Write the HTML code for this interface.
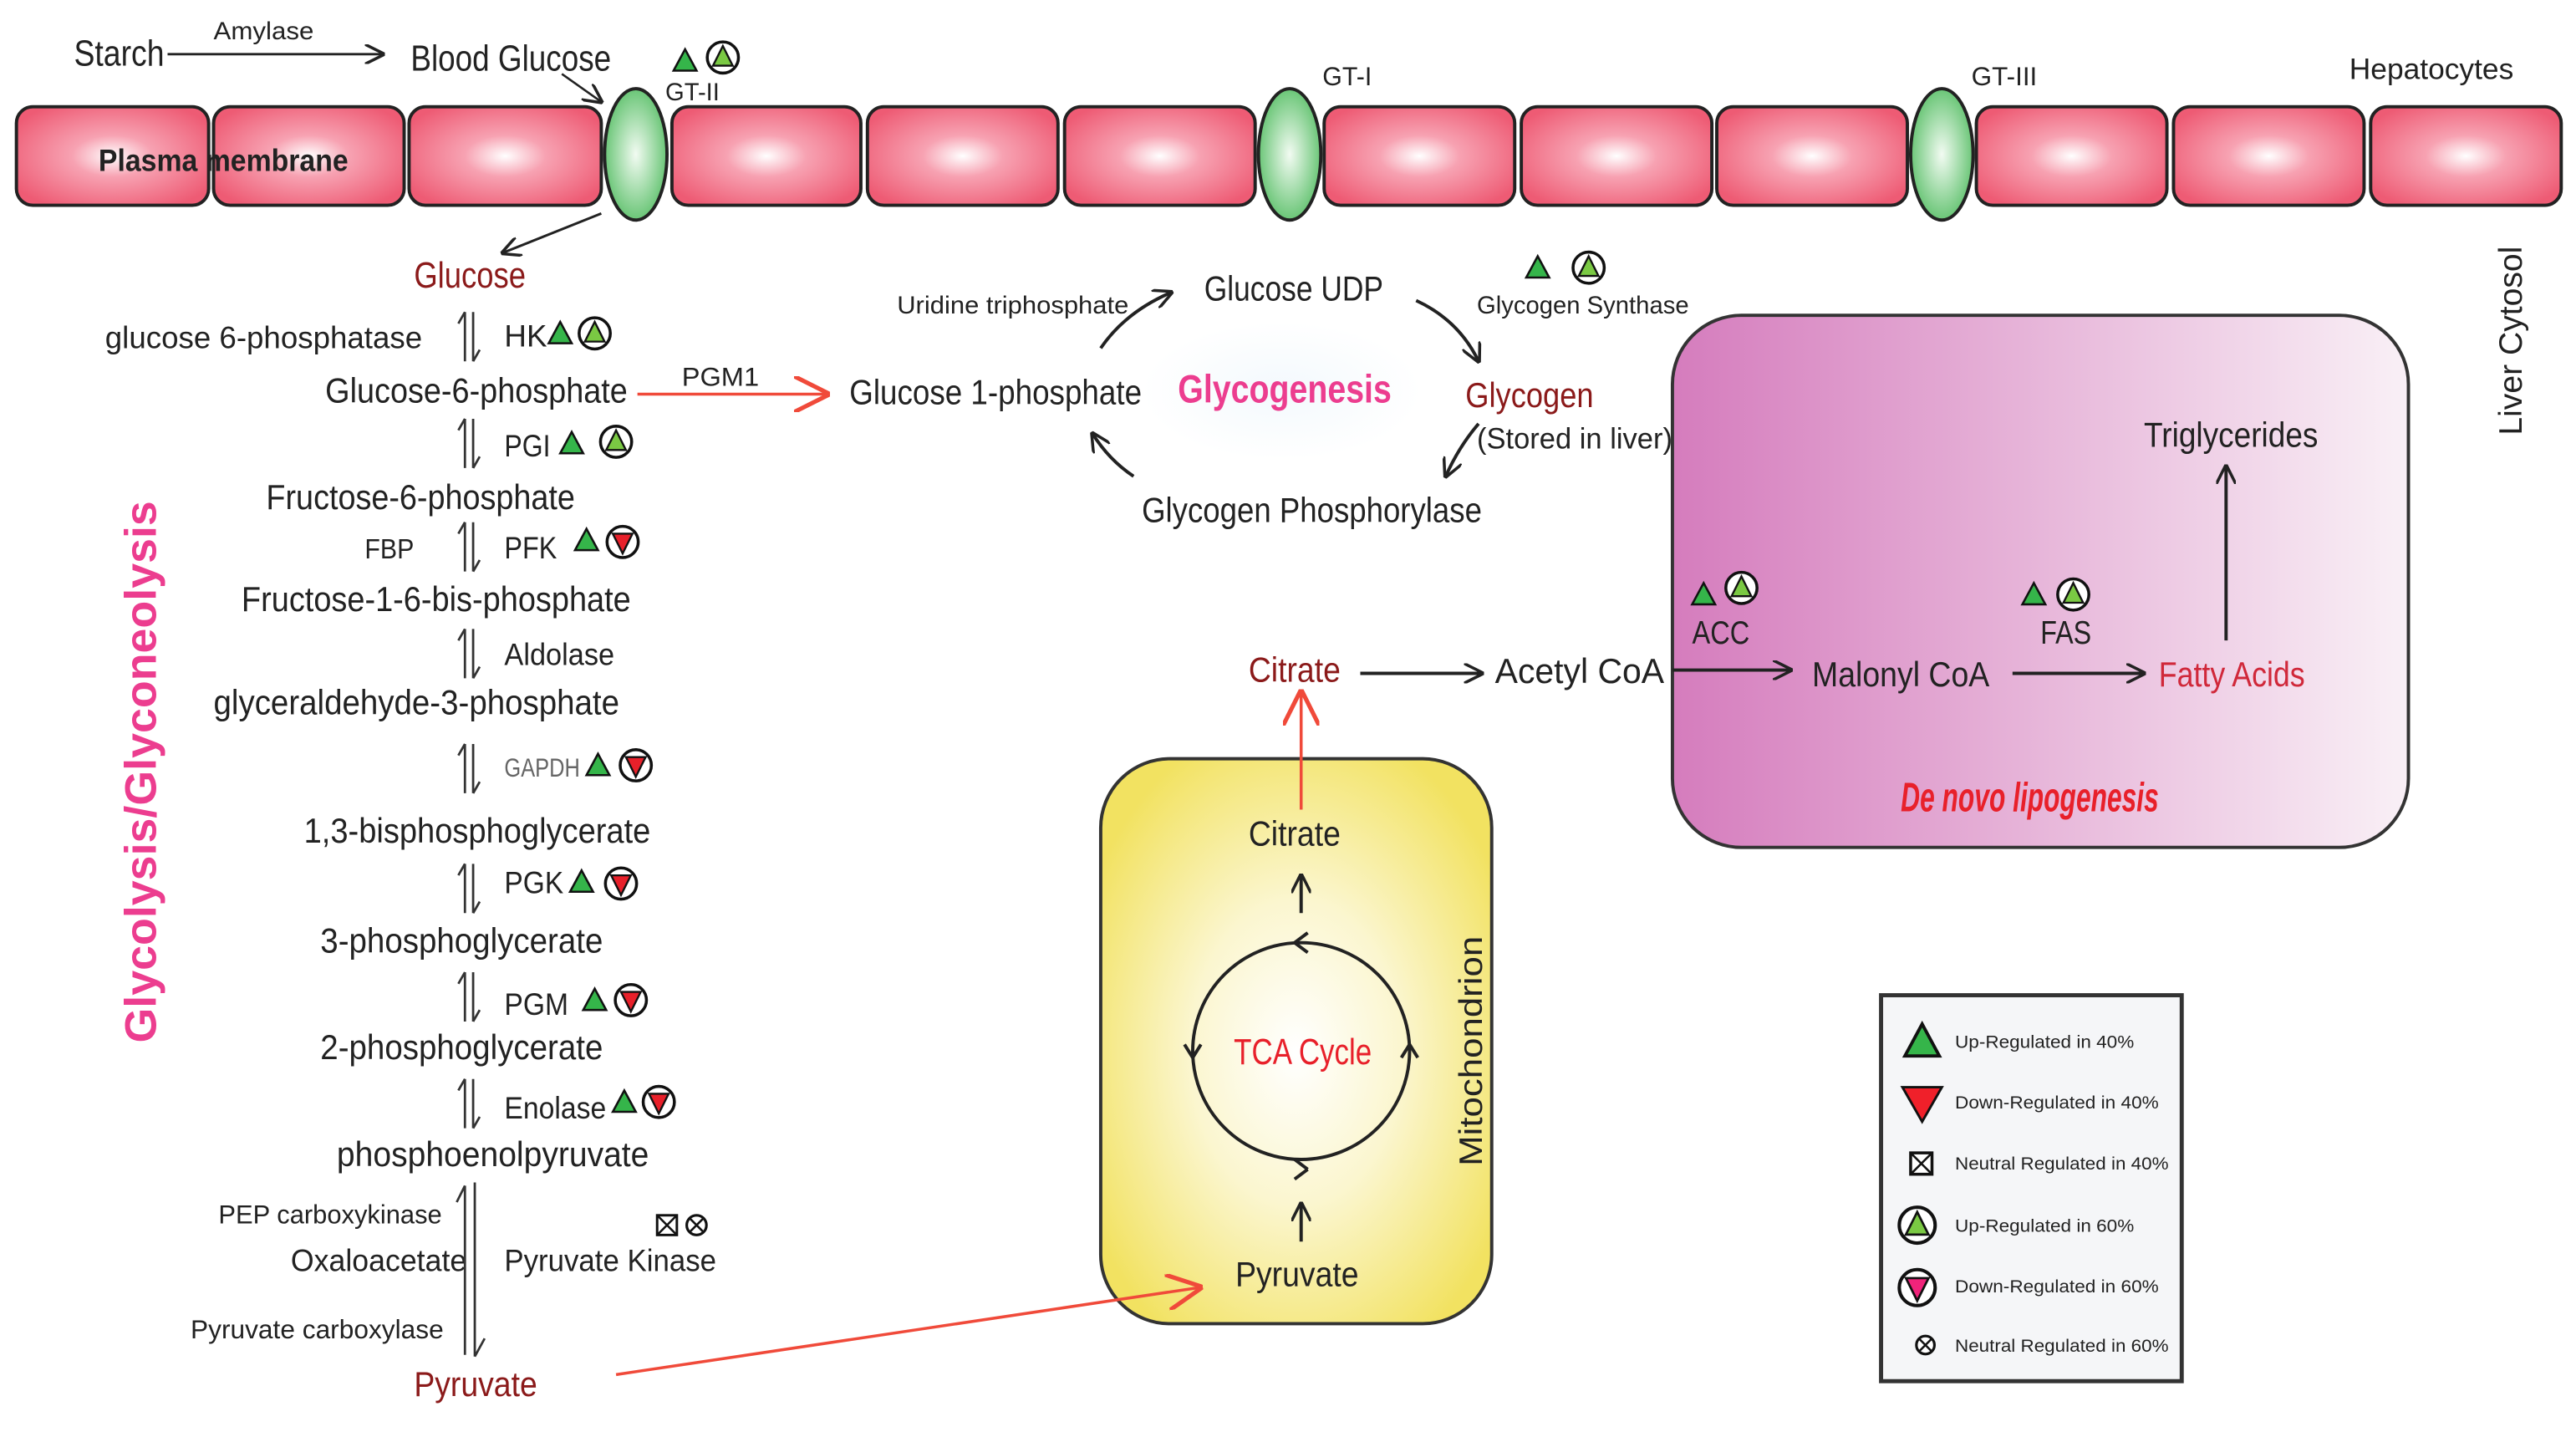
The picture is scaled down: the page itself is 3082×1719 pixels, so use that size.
<!DOCTYPE html>
<html><head><meta charset="utf-8"><style>html,body{margin:0;padding:0;background:#fff}svg{display:block}text{font-family:"Liberation Sans",sans-serif;fill:#222}</style></head><body>
<svg width="3082" height="1719" viewBox="0 0 1568 875" preserveAspectRatio="none" xmlns="http://www.w3.org/2000/svg">
<defs>
<radialGradient id="pk" cx="50%" cy="50%" r="60%"><stop offset="0" stop-color="#fff"/><stop offset="0.35" stop-color="#f7a2b2"/><stop offset="1" stop-color="#ee5b74"/></radialGradient>
<radialGradient id="gr" cx="50%" cy="50%" r="55%"><stop offset="0" stop-color="#f2fbf2"/><stop offset="1" stop-color="#5cc06a"/></radialGradient>
<radialGradient id="yl" cx="50%" cy="52%" r="60%"><stop offset="0" stop-color="#fff"/><stop offset="0.45" stop-color="#fbf6cf"/><stop offset="1" stop-color="#f2e261"/></radialGradient>
<radialGradient id="bl" cx="50%" cy="50%" r="50%"><stop offset="0" stop-color="#f3f9fd"/><stop offset="1" stop-color="#fff"/></radialGradient>
<linearGradient id="mg" x1="0" x2="1"><stop offset="0" stop-color="#d57cbd"/><stop offset="1" stop-color="#f9f0f6"/></linearGradient>
<marker id="a" viewBox="0 0 10 10" refX="9" refY="5" markerWidth="12" markerHeight="12" markerUnits="userSpaceOnUse" orient="auto"><path d="M0,0 L10,5 L0,10" fill="none" stroke="#222" stroke-width="1.5"/></marker>
<marker id="ar" viewBox="0 0 10 10" refX="9" refY="5" markerWidth="22" markerHeight="22" markerUnits="userSpaceOnUse" orient="auto"><path d="M0,0 L10,5 L0,10" fill="none" stroke="#f04a3a" stroke-width="1.2"/></marker>
<g id="u4"><path d="M-7,6 L0,-7 L7,6 Z" fill="#35b54a" stroke="#111" stroke-width="1.3"/></g>
<g id="u6"><circle r="9.5" fill="#fff" stroke="#111" stroke-width="1.8"/><path d="M-6,5 L0,-7 L6,5 Z" fill="#7ac943" stroke="#111" stroke-width="1.2"/></g>
<g id="d6"><circle r="9.5" fill="#fff" stroke="#111" stroke-width="1.8"/><path d="M-6,-5 L0,7 L6,-5 Z" fill="#e8202a" stroke="#111" stroke-width="1.2"/></g>
<g id="dd"><path d="M-2,-15 L-2,15 M-2,-15 L-6,-8" stroke="#333" stroke-width="1.4" fill="none"/><path d="M3,-15 L3,15 M3,15 L7,8" stroke="#333" stroke-width="1.4" fill="none"/></g>
</defs>
<g stroke="#222" stroke-width="2" fill="url(#pk)">
<rect x="10" y="65" width="117" height="60" rx="10"/><rect x="130" y="65" width="116" height="60" rx="10"/><rect x="249" y="65" width="117" height="60" rx="10"/>
<rect x="409" y="65" width="115" height="60" rx="10"/><rect x="528" y="65" width="116" height="60" rx="10"/><rect x="648" y="65" width="116" height="60" rx="10"/>
<rect x="806" y="65" width="116" height="60" rx="10"/><rect x="926" y="65" width="116" height="60" rx="10"/><rect x="1045" y="65" width="116" height="60" rx="10"/>
<rect x="1203" y="65" width="116" height="60" rx="10"/><rect x="1323" y="65" width="116" height="60" rx="10"/><rect x="1443" y="65" width="116" height="60" rx="10"/>
</g>
<g stroke="#222" stroke-width="2" fill="url(#gr)"><ellipse cx="387" cy="94" rx="19" ry="40"/><ellipse cx="785" cy="94" rx="19" ry="40"/><ellipse cx="1182" cy="94" rx="19" ry="40"/></g>
<g>
<text x="60" y="104" font-size="19" font-weight="bold" textLength="152" lengthAdjust="spacingAndGlyphs">Plasma membrane</text>
<text x="45" y="40" font-size="22" textLength="55" lengthAdjust="spacingAndGlyphs">Starch</text>
<text x="130" y="24" font-size="15" textLength="61" lengthAdjust="spacingAndGlyphs">Amylase</text>
<text x="250" y="43" font-size="22" textLength="122" lengthAdjust="spacingAndGlyphs">Blood Glucose</text>
<text x="405" y="61" font-size="15" textLength="33" lengthAdjust="spacingAndGlyphs">GT-II</text>
<text x="805" y="52" font-size="16" textLength="30" lengthAdjust="spacingAndGlyphs">GT-I</text>
<text x="1200" y="52" font-size="16" textLength="40" lengthAdjust="spacingAndGlyphs">GT-III</text>
<text x="1430" y="48" font-size="18" textLength="100" lengthAdjust="spacingAndGlyphs">Hepatocytes</text>
<text transform="translate(1535,265) rotate(-90)" font-size="20" textLength="115" lengthAdjust="spacingAndGlyphs">Liver Cytosol</text>
<text x="252" y="175" font-size="22" style="fill:#8b1a1a" textLength="68" lengthAdjust="spacingAndGlyphs">Glucose</text>
<text transform="translate(95,470) rotate(-90)" text-anchor="middle" font-size="27" font-weight="bold" style="fill:#ec3d8f" textLength="330" lengthAdjust="spacingAndGlyphs">Glycolysis/Glyconeolysis</text>
<text x="64" y="212" font-size="19" textLength="193" lengthAdjust="spacingAndGlyphs">glucose 6-phosphatase</text>
<text x="307" y="211" font-size="19" textLength="26" lengthAdjust="spacingAndGlyphs">HK</text>
<text x="198" y="245" font-size="21" textLength="184" lengthAdjust="spacingAndGlyphs">Glucose-6-phosphate</text>
<text x="415" y="235" font-size="16" textLength="47" lengthAdjust="spacingAndGlyphs">PGM1</text>
<text x="307" y="278" font-size="19" textLength="28" lengthAdjust="spacingAndGlyphs">PGI</text>
<text x="162" y="310" font-size="21" textLength="188" lengthAdjust="spacingAndGlyphs">Fructose-6-phosphate</text>
<text x="222" y="340" font-size="17" textLength="30" lengthAdjust="spacingAndGlyphs">FBP</text>
<text x="307" y="340" font-size="19" textLength="32" lengthAdjust="spacingAndGlyphs">PFK</text>
<text x="147" y="372" font-size="21" textLength="237" lengthAdjust="spacingAndGlyphs">Fructose-1-6-bis-phosphate</text>
<text x="307" y="405" font-size="19" textLength="67" lengthAdjust="spacingAndGlyphs">Aldolase</text>
<text x="130" y="435" font-size="21" textLength="247" lengthAdjust="spacingAndGlyphs">glyceraldehyde-3-phosphate</text>
<text x="307" y="473" font-size="16" style="fill:#666" textLength="46" lengthAdjust="spacingAndGlyphs">GAPDH</text>
<text x="185" y="513" font-size="21" textLength="211" lengthAdjust="spacingAndGlyphs">1,3-bisphosphoglycerate</text>
<text x="307" y="544" font-size="19" textLength="36" lengthAdjust="spacingAndGlyphs">PGK</text>
<text x="195" y="580" font-size="21" textLength="172" lengthAdjust="spacingAndGlyphs">3-phosphoglycerate</text>
<text x="307" y="618" font-size="19" textLength="39" lengthAdjust="spacingAndGlyphs">PGM</text>
<text x="195" y="645" font-size="21" textLength="172" lengthAdjust="spacingAndGlyphs">2-phosphoglycerate</text>
<text x="307" y="681" font-size="19" textLength="62" lengthAdjust="spacingAndGlyphs">Enolase</text>
<text x="205" y="710" font-size="21" textLength="190" lengthAdjust="spacingAndGlyphs">phosphoenolpyruvate</text>
<text x="133" y="745" font-size="16" textLength="136" lengthAdjust="spacingAndGlyphs">PEP carboxykinase</text>
<text x="177" y="774" font-size="19" textLength="107" lengthAdjust="spacingAndGlyphs">Oxaloacetate</text>
<text x="307" y="774" font-size="19" textLength="129" lengthAdjust="spacingAndGlyphs">Pyruvate Kinase</text>
<text x="116" y="815" font-size="16" textLength="154" lengthAdjust="spacingAndGlyphs">Pyruvate carboxylase</text>
<text x="252" y="850" font-size="21" style="fill:#8b1a1a" textLength="75" lengthAdjust="spacingAndGlyphs">Pyruvate</text>
</g>
<line x1="102" y1="33" x2="233" y2="33" stroke="#222" stroke-width="1.5" marker-end="url(#a)"/>
<line x1="342" y1="45" x2="366" y2="62" stroke="#222" stroke-width="1.3" marker-end="url(#a)"/>
<use href="#u4" x="417" y="37"/><use href="#u6" x="440" y="35"/>
<line x1="366" y1="130" x2="306" y2="154" stroke="#222" stroke-width="1.5" marker-end="url(#a)"/>
<use href="#dd" x="285" y="205"/><use href="#u4" x="341" y="203"/><use href="#u6" x="362" y="203"/>
<line x1="388" y1="240" x2="503" y2="240" stroke="#f04a3a" stroke-width="1.8" marker-end="url(#ar)"/>
<use href="#dd" x="285" y="270"/><use href="#u4" x="348" y="270"/><use href="#u6" x="375" y="269"/>
<use href="#dd" x="285" y="333"/><use href="#u4" x="357" y="329"/><use href="#d6" x="379" y="330"/>
<use href="#dd" x="285" y="398"/>
<use href="#dd" x="285" y="468"/><use href="#u4" x="364" y="466"/><use href="#d6" x="387" y="466"/>
<use href="#dd" x="285" y="541"/><use href="#u4" x="354" y="537"/><use href="#d6" x="378" y="538"/>
<use href="#dd" x="285" y="607"/><use href="#u4" x="362" y="609"/><use href="#d6" x="384" y="609"/>
<use href="#dd" x="285" y="672"/><use href="#u4" x="380" y="671"/><use href="#d6" x="401" y="671"/>
<path d="M283,722 L283,825 M283,722 L278,732 M289,720 L289,826 M289,826 L295,815" stroke="#333" stroke-width="1.4" fill="none"/>
<rect x="400" y="740" width="12" height="12" fill="#fff" stroke="#111" stroke-width="1.5"/><path d="M400,740 L412,752 M412,740 L400,752" stroke="#111" stroke-width="1.3"/>
<circle cx="424" cy="746" r="6" fill="#fff" stroke="#111" stroke-width="1.6"/><path d="M420,742 L428,750 M428,742 L420,750" stroke="#111" stroke-width="1.3"/>
<!-- glycogenesis -->
<ellipse cx="780" cy="238" rx="85" ry="42" fill="url(#bl)"/>
<text x="546" y="191" font-size="15" textLength="141" lengthAdjust="spacingAndGlyphs">Uridine triphosphate</text>
<path d="M670,212 Q685,190 713,178" stroke="#222" stroke-width="2" fill="none" marker-end="url(#a)"/>
<text x="733" y="183" font-size="21" textLength="109" lengthAdjust="spacingAndGlyphs">Glucose UDP</text>
<path d="M862,183 Q888,195 900,220" stroke="#222" stroke-width="2" fill="none" marker-end="url(#a)"/>
<use href="#u4" x="936" y="163"/><use href="#u6" x="967" y="163"/>
<text x="899" y="191" font-size="15" textLength="129" lengthAdjust="spacingAndGlyphs">Glycogen Synthase</text>
<text x="517" y="246" font-size="21" textLength="178" lengthAdjust="spacingAndGlyphs">Glucose 1-phosphate</text>
<text x="717" y="245" font-size="24" font-weight="bold" style="fill:#ec3d8f" textLength="130" lengthAdjust="spacingAndGlyphs">Glycogenesis</text>
<text x="892" y="248" font-size="21" style="fill:#8b1a1a" textLength="78" lengthAdjust="spacingAndGlyphs">Glycogen</text>
<text x="899" y="273" font-size="18" textLength="119" lengthAdjust="spacingAndGlyphs">(Stored in liver)</text>
<path d="M900,258 Q888,272 880,290" stroke="#222" stroke-width="2" fill="none" marker-end="url(#a)"/>
<text x="695" y="318" font-size="21" textLength="207" lengthAdjust="spacingAndGlyphs">Glycogen Phosphorylase</text>
<path d="M690,290 Q675,280 665,264" stroke="#222" stroke-width="2" fill="none" marker-end="url(#a)"/>
<!-- lipogenesis -->
<rect x="1018" y="192" width="448" height="324" rx="42" fill="url(#mg)" stroke="#333" stroke-width="2"/>
<text x="1305" y="272" font-size="21" textLength="106" lengthAdjust="spacingAndGlyphs">Triglycerides</text>
<line x1="1355" y1="390" x2="1355" y2="284" stroke="#222" stroke-width="2" marker-end="url(#a)"/>
<use href="#u4" x="1037" y="362"/><use href="#u6" x="1060" y="358"/>
<text x="1030" y="392" font-size="20" textLength="35" lengthAdjust="spacingAndGlyphs">ACC</text>
<use href="#u4" x="1238" y="362"/><use href="#u6" x="1262" y="362"/>
<text x="1242" y="392" font-size="20" textLength="31" lengthAdjust="spacingAndGlyphs">FAS</text>
<text x="1103" y="418" font-size="21" textLength="108" lengthAdjust="spacingAndGlyphs">Malonyl CoA</text>
<text x="1314" y="418" font-size="21" style="fill:#d0283a" textLength="89" lengthAdjust="spacingAndGlyphs">Fatty Acids</text>
<line x1="1018" y1="408" x2="1090" y2="408" stroke="#222" stroke-width="2" marker-end="url(#a)"/>
<line x1="1225" y1="410" x2="1305" y2="410" stroke="#222" stroke-width="2" marker-end="url(#a)"/>
<text x="1157" y="494" font-size="25" font-weight="bold" font-style="italic" style="fill:#e8202a" textLength="157" lengthAdjust="spacingAndGlyphs">De novo lipogenesis</text>
<text x="760" y="415" font-size="21" style="fill:#8b1a1a" textLength="56" lengthAdjust="spacingAndGlyphs">Citrate</text>
<line x1="828" y1="410" x2="902" y2="410" stroke="#222" stroke-width="2" marker-end="url(#a)"/>
<text x="910" y="416" font-size="21" textLength="103" lengthAdjust="spacingAndGlyphs">Acetyl CoA</text>
<!-- mito -->
<rect x="670" y="462" width="238" height="344" rx="42" fill="url(#yl)" stroke="#333" stroke-width="2"/>
<text transform="translate(902,640) rotate(-90)" text-anchor="middle" font-size="20" textLength="140" lengthAdjust="spacingAndGlyphs">Mitochondrion</text>
<text x="760" y="515" font-size="21" textLength="56" lengthAdjust="spacingAndGlyphs">Citrate</text>
<line x1="792" y1="493" x2="792" y2="422" stroke="#f04a3a" stroke-width="1.8" marker-end="url(#ar)"/>
<line x1="792" y1="556" x2="792" y2="533" stroke="#222" stroke-width="2" marker-end="url(#a)"/>
<circle cx="792" cy="640" r="66" fill="none" stroke="#222" stroke-width="2"/>
<path d="M788,574 l8,-6 M788,574 l8,6 M726,644 l-5,-8 M726,644 l5,-8 M796,712 l-8,6 M796,712 l-8,-6 M858,636 l-5,8 M858,636 l5,8" stroke="#222" stroke-width="2" fill="none"/>
<text x="751" y="648" font-size="22" style="fill:#e8202a" textLength="84" lengthAdjust="spacingAndGlyphs">TCA Cycle</text>
<line x1="792" y1="756" x2="792" y2="733" stroke="#222" stroke-width="2" marker-end="url(#a)"/>
<text x="752" y="783" font-size="21" textLength="75" lengthAdjust="spacingAndGlyphs">Pyruvate</text>
<line x1="375" y1="837" x2="730" y2="784" stroke="#f04a3a" stroke-width="1.8" marker-end="url(#ar)"/>
<!-- legend -->
<rect x="1145" y="606" width="183" height="235" fill="#f5f6f8" stroke="#333" stroke-width="2.5"/>
<g transform="translate(1170,634) scale(1.5)"><use href="#u4"/></g>
<g transform="translate(1170,671) scale(1.5)"><path d="M-8,-6 L0,8 L8,-6 Z" fill="#f0202a" stroke="#111" stroke-width="1"/></g>
<rect x="1163" y="702" width="13" height="13" fill="#fff" stroke="#111" stroke-width="1.8"/><path d="M1163,702 L1176,715 M1176,702 L1163,715" stroke="#111" stroke-width="1.3"/>
<g transform="translate(1167,746) scale(1.15)"><use href="#u6"/></g>
<g transform="translate(1167,784) scale(1.15)"><circle r="9.5" fill="#fff" stroke="#111" stroke-width="1.8"/><path d="M-6,-5 L0,7 L6,-5 Z" fill="#f0237a" stroke="#111" stroke-width="1.2"/></g>
<circle cx="1172" cy="819" r="5.5" fill="#fff" stroke="#111" stroke-width="1.6"/><path d="M1168,815 L1176,823 M1176,815 L1168,823" stroke="#111" stroke-width="1.3"/>
<g font-size="11">
<text x="1190" y="638" textLength="109" lengthAdjust="spacingAndGlyphs">Up-Regulated in 40%</text>
<text x="1190" y="675" textLength="124" lengthAdjust="spacingAndGlyphs">Down-Regulated in 40%</text>
<text x="1190" y="712" textLength="130" lengthAdjust="spacingAndGlyphs">Neutral Regulated in 40%</text>
<text x="1190" y="750" textLength="109" lengthAdjust="spacingAndGlyphs">Up-Regulated in 60%</text>
<text x="1190" y="787" textLength="124" lengthAdjust="spacingAndGlyphs">Down-Regulated in 60%</text>
<text x="1190" y="823" textLength="130" lengthAdjust="spacingAndGlyphs">Neutral Regulated in 60%</text>
</g>
</svg>
</body></html>
